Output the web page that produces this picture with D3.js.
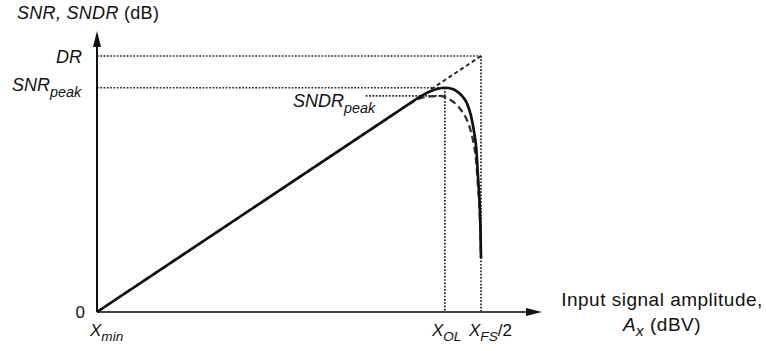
<!DOCTYPE html>
<html>
<head>
<meta charset="utf-8">
<script src="https://cdn.jsdelivr.net/npm/d3@7"></script>
<style>
  html, body { margin: 0; padding: 0; background: #fff; }
  svg { display: block; }
  text { font-family: "Liberation Sans", Arial, Helvetica, sans-serif; fill: #111; }
</style>
</head>
<body>
<svg id="chart" width="766" height="351"></svg>
<script>
// Input amplitude in dBV (Xmin .. XFS/2) and SNR / SNDR in dB
const snrAmp   = [-100, -15.9, -13.3, -11.2, -9.4, -7.6, -6.0, -4.7, -3.6, -2.6, -1.8, -1.2, -0.8, -0.4, -0.13, 0];
const snrDb    = [0, 84.1, 86.1, 87.2, 87.6, 87.2, 85.9, 84.0, 81.3, 76.6, 70.3, 63.3, 53.5, 43.8, 32.0, 21.1];
const sndrAmp  = [-100, -18.5, -15.9, -13.3, -10.7, -8.6, -6.8, -5.2, -3.9, -2.9, -2.1, -1.3, -0.8, -0.26, 0];
const sndrDb   = [0, 81.5, 83.4, 84.2, 84.4, 83.4, 81.6, 78.9, 75.8, 71.9, 67.2, 59.4, 49.6, 35.9, 21.1];

// Characteristic levels
const ampMin = -100, ampOL = -9.4, ampFS2 = 0;
const dbDR = 100, dbSNRpeak = 87.6, dbSNDRpeak = 84.4;

const svg = d3.select("#chart");
const x = d3.scaleLinear().domain([-100, 0]).range([97, 481]);
const y = d3.scaleLinear().domain([0, 100]).range([312, 56]);
const axisEndX = 542, axisEndY = 31;

// reference (dotted) guide lines
const dotted = svg.append("g").attr("stroke", "#222").attr("stroke-width", 1.7)
  .attr("stroke-dasharray", "1.7,1.6").attr("fill", "none");
dotted.append("line").attr("x1", x(ampMin)).attr("x2", x(ampFS2)).attr("y1", y(dbDR)).attr("y2", y(dbDR));
dotted.append("line").attr("x1", x(ampFS2)).attr("x2", x(ampFS2)).attr("y1", y(dbDR)).attr("y2", y(0));
dotted.append("line").attr("x1", x(ampMin)).attr("x2", x(ampOL)).attr("y1", y(dbSNRpeak)).attr("y2", y(dbSNRpeak));
dotted.append("line").attr("x1", x(ampOL)).attr("x2", x(ampOL)).attr("y1", y(dbSNRpeak)).attr("y2", y(0));
dotted.append("line").attr("x1", x(-30)).attr("x2", x(ampOL)).attr("y1", y(dbSNDRpeak)).attr("y2", y(dbSNDRpeak));

// ideal linear extension up to DR
svg.append("line").attr("x1", x(-13)).attr("y1", y(87)).attr("x2", x(ampFS2)).attr("y2", y(dbDR))
  .attr("stroke", "#222").attr("stroke-width", 1.9).attr("stroke-dasharray", "4,3");

// axes with arrowheads
svg.append("line").attr("x1", x(ampMin)).attr("x2", axisEndX - 14).attr("y1", y(0)).attr("y2", y(0))
  .attr("stroke", "#444").attr("stroke-width", 2);
svg.append("line").attr("x1", x(ampMin)).attr("x2", x(ampMin)).attr("y1", y(0)).attr("y2", axisEndY + 12)
  .attr("stroke", "#111").attr("stroke-width", 2);
svg.append("path").attr("d", `M${axisEndX},${y(0)} L${axisEndX - 16},${y(0) - 4} L${axisEndX - 16},${y(0) + 4} Z`).attr("fill", "#111");
svg.append("path").attr("d", `M${x(ampMin)},${axisEndY} L${x(ampMin) - 4},${axisEndY + 16} L${x(ampMin) + 4},${axisEndY + 16} Z`).attr("fill", "#111");

// curves: straight run from the origin, smooth knee and roll-off after it
const knee = d3.line().x(d => x(d[0])).y(d => y(d[1])).curve(d3.curveMonotoneX);
function curvePath(amp, db) {
  const pts = d3.zip(amp, db);
  const start = pts[0];
  return `M${x(start[0])},${y(start[1])}` + knee(pts.slice(1)).replace(/^M/, "L");
}
svg.append("path").attr("d", curvePath(sndrAmp, sndrDb))
  .attr("fill", "none").attr("stroke", "#333").attr("stroke-width", 2.3).attr("stroke-dasharray", "7,4");
svg.append("path").attr("d", curvePath(snrAmp, snrDb))
  .attr("fill", "none").attr("stroke", "#111").attr("stroke-width", 2.7);

// labels
function label(px, py, parts, opts) {
  const o = Object.assign({fs: 18, anchor: "start", ls: 0}, opts || {});
  const t = svg.append("text").attr("x", px).attr("y", py).attr("font-size", o.fs)
    .attr("text-anchor", o.anchor).attr("letter-spacing", o.ls);
  parts.forEach(p => {
    const s = t.append("tspan").text(p.t);
    if (p.i) s.attr("font-style", "italic");
    if (p.sub) s.attr("font-size", o.fs * 0.8).attr("dy", p.dy || 5);
    if (p.up) s.attr("dy", p.up);
  });
  return t;
}
label(17, 19, [{t: "SNR, SNDR", i: true}, {t: " (dB)"}], {ls: 0.3});
label(82, y(dbDR) + 7, [{t: "DR", i: true}], {anchor: "end"});
label(12, y(dbSNRpeak) + 3, [{t: "SNR", i: true}, {t: "peak", i: true, sub: true, dy: 6}]);
label(293, y(dbSNDRpeak) + 11, [{t: "SNDR", i: true}, {t: "peak", i: true, sub: true, dy: 6}]);
label(85, y(0) + 6, [{t: "0"}], {anchor: "end", fs: 17});
label(x(ampMin) - 7, 336, [{t: "X", i: true}, {t: "min", i: true, sub: true, dy: 5}], {fs: 17});
label(x(ampOL) - 13, 336, [{t: "X", i: true}, {t: "OL", i: true, sub: true, dy: 5}], {fs: 17});
label(x(ampFS2) - 12, 336, [{t: "X", i: true}, {t: "FS", i: true, sub: true, dy: 5}, {t: "/2", up: -5}], {fs: 17});
label(662, 306, [{t: "Input signal amplitude,"}], {anchor: "middle", fs: 19, ls: 0.5});
label(662, 331, [{t: "A", i: true}, {t: "x", i: true, sub: true, dy: 5}, {t: " (dBV)", up: -5}], {anchor: "middle", fs: 19, ls: 0.5});
</script>
</body>
</html>
